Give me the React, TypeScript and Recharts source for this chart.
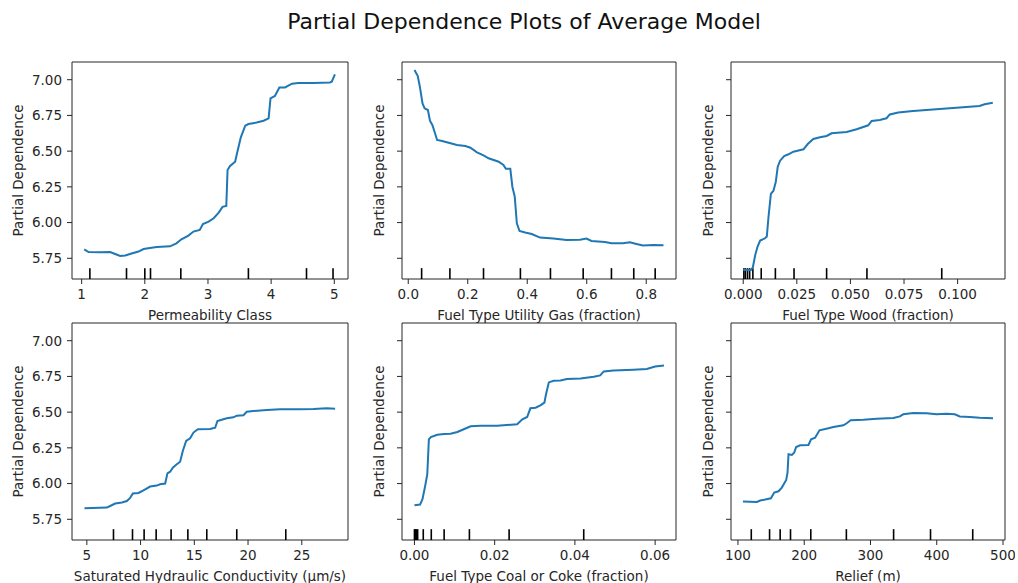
import React from "react";
import { LineChart, Line, XAxis, YAxis, ReferenceLine, ReferenceArea } from "recharts";

// shared y scale of all six panels
const Y_DOMAIN = [5.605, 7.124];
const Y_TICKS = [5.75, 6.0, 6.25, 6.5, 6.75, 7.0];

// Permeability Class
const permX = [1.04, 1.11, 1.29, 1.45, 1.53, 1.61, 1.69, 1.79, 1.9, 1.98, 2.08, 2.19, 2.4, 2.5, 2.58, 2.69, 2.77, 2.87, 2.92, 3.01, 3.09, 3.17, 3.23, 3.29, 3.31, 3.35, 3.43, 3.46, 3.52, 3.59, 3.64, 3.77, 3.88, 3.96, 3.99, 4.06, 4.13, 4.22, 4.33, 4.43, 4.67, 4.93, 4.96, 5.01];
const permPD = [5.813, 5.794, 5.792, 5.794, 5.78, 5.766, 5.769, 5.783, 5.797, 5.815, 5.822, 5.829, 5.834, 5.855, 5.883, 5.909, 5.937, 5.948, 5.99, 6.007, 6.03, 6.07, 6.11, 6.116, 6.368, 6.396, 6.426, 6.485, 6.597, 6.678, 6.69, 6.7, 6.713, 6.73, 6.87, 6.886, 6.946, 6.946, 6.972, 6.977, 6.977, 6.981, 6.986, 7.037];
const permRug = [1.13, 1.71, 2.0, 2.09, 2.57, 3.64, 4.56, 4.98];

// Fuel Type Utility Gas (fraction)
const gasX = [0.021, 0.032, 0.039, 0.048, 0.055, 0.066, 0.073, 0.081, 0.09, 0.097, 0.114, 0.142, 0.164, 0.192, 0.209, 0.231, 0.253, 0.27, 0.304, 0.32, 0.328, 0.343, 0.35, 0.358, 0.365, 0.374, 0.393, 0.415, 0.443, 0.488, 0.532, 0.577, 0.599, 0.616, 0.661, 0.683, 0.722, 0.745, 0.767, 0.789, 0.823, 0.858];
const gasPD = [7.068, 7.026, 6.951, 6.834, 6.8, 6.788, 6.713, 6.683, 6.625, 6.578, 6.571, 6.555, 6.543, 6.536, 6.524, 6.492, 6.471, 6.45, 6.426, 6.403, 6.377, 6.377, 6.251, 6.181, 5.995, 5.941, 5.93, 5.92, 5.895, 5.888, 5.878, 5.88, 5.888, 5.871, 5.864, 5.855, 5.855, 5.862, 5.85, 5.839, 5.843, 5.841];
const gasRug = [0.045, 0.14, 0.253, 0.377, 0.478, 0.588, 0.683, 0.758, 0.83];

// Fuel Type Wood (fraction)
const woodX = [0.0, 0.0036, 0.0045, 0.0056, 0.0067, 0.0079, 0.0102, 0.011, 0.0118, 0.0129, 0.0141, 0.0152, 0.0161, 0.0172, 0.0191, 0.0211, 0.0234, 0.0281, 0.0301, 0.0327, 0.0358, 0.0389, 0.0412, 0.0482, 0.0529, 0.0583, 0.0599, 0.0637, 0.0668, 0.0684, 0.0723, 0.0792, 0.0885, 0.0994, 0.1102, 0.1126, 0.1164];
const woodPD = [5.668, 5.668, 5.687, 5.773, 5.832, 5.874, 5.89, 5.902, 6.041, 6.2, 6.223, 6.286, 6.391, 6.433, 6.466, 6.478, 6.496, 6.513, 6.55, 6.585, 6.597, 6.606, 6.625, 6.634, 6.653, 6.681, 6.711, 6.718, 6.73, 6.757, 6.771, 6.781, 6.792, 6.804, 6.816, 6.828, 6.839];
const woodRug = [0.0003, 0.001, 0.002, 0.003, 0.0045, 0.0084, 0.015, 0.0237, 0.0389, 0.0577, 0.0926];

// Saturated Hydraulic Conductivity (µm/s)
const ksatX = [4.78, 6.86, 7.17, 7.64, 8.26, 8.72, 9.03, 9.28, 9.81, 10.27, 10.89, 11.51, 11.82, 12.29, 12.5, 12.75, 13.0, 13.37, 13.68, 13.93, 14.24, 14.61, 14.92, 15.33, 16.47, 16.94, 17.15, 17.55, 18.02, 18.64, 18.95, 19.57, 19.88, 20.5, 21.74, 22.98, 24.84, 26.09, 27.33, 28.1];
const ksatPD = [5.827, 5.832, 5.843, 5.86, 5.867, 5.878, 5.9, 5.93, 5.934, 5.953, 5.979, 5.986, 5.995, 6.0, 6.072, 6.083, 6.111, 6.135, 6.153, 6.228, 6.298, 6.317, 6.357, 6.38, 6.382, 6.391, 6.438, 6.447, 6.457, 6.464, 6.475, 6.478, 6.503, 6.508, 6.515, 6.52, 6.52, 6.522, 6.527, 6.524];
const ksatRug = [7.48, 9.25, 10.33, 11.45, 12.84, 14.4, 16.16, 18.95, 23.51];

// Fuel Type Coal or Coke (fraction)
const coalX = [0.0, 0.0014, 0.002, 0.0026, 0.0032, 0.0036, 0.0041, 0.0057, 0.0074, 0.009, 0.0107, 0.0123, 0.014, 0.0165, 0.0206, 0.0256, 0.0269, 0.0281, 0.0289, 0.0302, 0.0314, 0.0324, 0.0328, 0.0335, 0.0347, 0.0364, 0.038, 0.0414, 0.0447, 0.0463, 0.0472, 0.0496, 0.0546, 0.0579, 0.06, 0.0622];
const coalPD = [5.848, 5.853, 5.89, 5.972, 6.065, 6.31, 6.326, 6.342, 6.347, 6.349, 6.361, 6.38, 6.401, 6.405, 6.405, 6.415, 6.45, 6.466, 6.527, 6.531, 6.548, 6.566, 6.625, 6.708, 6.72, 6.722, 6.732, 6.736, 6.748, 6.757, 6.785, 6.792, 6.797, 6.802, 6.82, 6.827];
const coalRug = [0.0, 0.0002, 0.0005, 0.0008, 0.0022, 0.0042, 0.0074, 0.0137, 0.0236, 0.0422];

// Relief (m)
const reliefX = [107.5, 128.6, 133.6, 141.2, 149.7, 154.7, 161.2, 166.2, 172.8, 174.8, 176.3, 181.3, 184.8, 187.8, 193.9, 206.4, 210.4, 216.4, 223, 236.5, 244, 259.1, 264.1, 270.1, 289.2, 309.3, 334.4, 344.4, 349.4, 364.5, 384.6, 399.6, 414.7, 427.2, 434.8, 449.8, 464.9, 484.9];
const reliefPD = [5.874, 5.871, 5.881, 5.888, 5.897, 5.937, 5.946, 5.972, 6.025, 6.076, 6.205, 6.2, 6.216, 6.256, 6.268, 6.27, 6.31, 6.321, 6.373, 6.387, 6.396, 6.408, 6.422, 6.443, 6.447, 6.454, 6.459, 6.47, 6.485, 6.494, 6.492, 6.485, 6.489, 6.485, 6.47, 6.466, 6.461, 6.457];
const reliefRug = [120.1, 147.7, 163.7, 179.3, 209.9, 263.6, 334.9, 390.6, 454.3];

const FONT = "'DejaVu Sans', 'Noto Sans', sans-serif";
const INK = "#262626";
const FS = 13.5;
const BOX_H = 217;
const AXIS_W = 70;

const panels = [
  { name: "Permeability Class", xs: permX, ys: permPD, rug: permRug, domain: [0.847, 5.217], ticks: [1, 2, 3, 4, 5], dec: 0, left: 72, top: 62, w: 276, yTicks: true, yLabelAt: 16 },
  { name: "Fuel Type Utility Gas (fraction)", xs: gasX, ys: gasPD, rug: gasRug, domain: [-0.021, 0.9], ticks: [0, 0.2, 0.4, 0.6, 0.8], dec: 1, left: 401.7, top: 62, w: 274, yTicks: false, yLabelAt: 47.3 },
  { name: "Fuel Type Wood (fraction)", xs: woodX, ys: woodPD, rug: woodRug, domain: [-0.0057, 0.1221], ticks: [0, 0.025, 0.05, 0.075, 0.1], dec: 3, left: 731, top: 62, w: 274, yTicks: false, yLabelAt: 47 },
  { name: "Saturated Hydraulic Conductivity (µm/s)", xs: ksatX, ys: ksatPD, rug: ksatRug, domain: [3.62, 29.3], ticks: [5, 10, 15, 20, 25], dec: 0, left: 72, top: 323, w: 276, yTicks: true, yLabelAt: 16 },
  { name: "Fuel Type Coal or Coke (fraction)", xs: coalX, ys: coalPD, rug: coalRug, domain: [-0.0031, 0.0652], ticks: [0, 0.02, 0.04, 0.06], dec: 2, left: 401.7, top: 323, w: 274, yTicks: false, yLabelAt: 47.3 },
  { name: "Relief (m)", xs: reliefX, ys: reliefPD, rug: reliefRug, domain: [89.5, 503], ticks: [100, 200, 300, 400, 500], dec: 0, left: 731, top: 323, w: 274, yTicks: false, yLabelAt: 47 },
];

function Panel({ p }: { p: any }) {
  const data = p.xs.map((x: number, i: number) => ({ x, pd: p.ys[i] }));
  const [y0, y1] = Y_DOMAIN;
  const rugTop = y0 + (y1 - y0) * 0.05;

  const xLabel = (props: any) => {
    const vb = props.viewBox || {};
    const cx = vb.x + vb.width / 2;
    const cy = vb.y + 36;
    return (
      <text x={cx} y={cy} textAnchor="middle" dominantBaseline="central" fill={INK} fontSize={FS} fontFamily={FONT}>
        {p.name}
      </text>
    );
  };

  const yLabel = (props: any) => {
    const vb = props.viewBox || {};
    const cx = vb.x + p.yLabelAt;
    const cy = vb.y + vb.height / 2;
    return (
      <text x={cx} y={cy} transform={`rotate(-90 ${cx} ${cy})`} textAnchor="middle" dominantBaseline="central" fill={INK} fontSize={FS} fontFamily={FONT}>
        Partial Dependence
      </text>
    );
  };

  return (
    <div style={{ position: "absolute", left: p.left - AXIS_W, top: p.top - 10 }}>
      <LineChart width={AXIS_W + p.w + 10} height={10 + BOX_H + 45} data={data} margin={{ top: 10, right: 10, left: 0, bottom: 0 }}>
        <XAxis
          dataKey="x"
          type="number"
          domain={p.domain}
          ticks={p.ticks}
          interval={0}
          allowDataOverflow
          tickFormatter={(v: number) => v.toFixed(p.dec)}
          tickSize={5}
          tickMargin={5}
          height={45}
          axisLine={false}
          tickLine={{ stroke: INK }}
          tick={{ fill: INK, fontSize: FS, fontFamily: FONT }}
          label={xLabel}
        />
        <YAxis
          type="number"
          domain={Y_DOMAIN}
          ticks={Y_TICKS}
          interval={0}
          allowDataOverflow
          width={AXIS_W}
          tickFormatter={(v: number) => (p.yTicks ? v.toFixed(2) : "")}
          tickSize={5}
          tickMargin={5}
          axisLine={false}
          tickLine={{ stroke: INK }}
          tick={{ fill: INK, fontSize: FS, fontFamily: FONT }}
          label={yLabel}
        />
        <ReferenceArea x1={p.domain[0]} x2={p.domain[1]} y1={y0} y2={y1} fill="none" stroke={INK} strokeWidth={1} ifOverflow="visible" />
        {p.rug.map((r: number, i: number) => (
          <ReferenceLine key={i} segment={[{ x: r, y: y0 }, { x: r, y: rugTop }]} stroke="#000" strokeWidth={1.6} />
        ))}
        <Line type="linear" dataKey="pd" stroke="#1f77b4" strokeWidth={2} dot={false} isAnimationActive={false} />
      </LineChart>
    </div>
  );
}

export default function App() {
  return (
    <div style={{ position: "absolute", left: 0, top: 0, width: 1018, height: 583, overflow: "hidden", background: "#fff", fontFamily: FONT }}>
      <div style={{ position: "absolute", left: 0, top: 8, width: 1048, textAlign: "center", fontSize: 22, lineHeight: "28px", color: "#111" }}>
        Partial Dependence Plots of Average Model
      </div>
      {panels.map((p) => (
        <Panel key={p.name} p={p} />
      ))}
    </div>
  );
}
